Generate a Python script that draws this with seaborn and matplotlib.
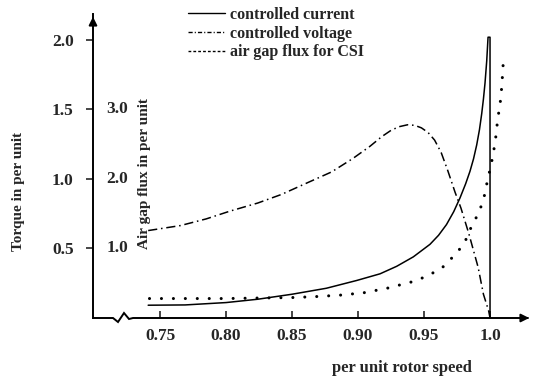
import numpy as np
import pandas as pd
import matplotlib
matplotlib.use("Agg")
import matplotlib.pyplot as plt
from matplotlib.lines import Line2D
import seaborn as sns

# ---- data ----
speed_cc = [0.741, 0.769, 0.800, 0.824, 0.850, 0.876, 0.899, 0.9167, 0.9293, 0.9419,
            0.9545, 0.961, 0.967, 0.9725, 0.9773, 0.9815, 0.9848, 0.9875, 0.9899,
            0.992, 0.9937, 0.995, 0.9962, 0.9975, 0.9985, 1.000, 1.000]
torque_cc = [0.092, 0.094, 0.111, 0.135, 0.171, 0.214, 0.270, 0.318, 0.372, 0.440,
             0.530, 0.595, 0.672, 0.765, 0.865, 0.965, 1.055, 1.145, 1.245,
             1.355, 1.470, 1.575, 1.690, 1.850, 2.020, 2.020, 0.000]

speed_cv = [0.741, 0.7655, 0.785, 0.803, 0.824, 0.842, 0.860, 0.880, 0.896, 0.909,
            0.918, 0.925, 0.931, 0.9375, 0.943, 0.948, 0.953, 0.958, 0.963, 0.968,
            0.9735, 0.978, 0.984, 0.991, 0.995, 0.999, 1.000]
torque_cv = [0.629, 0.665, 0.713, 0.769, 0.827, 0.889, 0.966, 1.051, 1.147, 1.235,
             1.305, 1.350, 1.376, 1.390, 1.386, 1.368, 1.335, 1.280, 1.190, 1.060,
             0.905, 0.790, 0.605, 0.364, 0.171, 0.050, 0.000]

speed_fx = [0.742, 0.770, 0.800, 0.834, 0.850, 0.868, 0.886, 0.904, 0.922, 0.942,
            0.953, 0.964, 0.974, 0.9805, 0.9857, 0.991, 0.995, 0.997, 1.001, 1.004,
            1.005, 1.0065, 1.008, 1.009, 1.010]
flux_fx = [0.140, 0.140, 0.140, 0.145, 0.147, 0.154, 0.164, 0.181, 0.214, 0.263,
           0.304, 0.364, 0.460, 0.537, 0.653, 0.749, 0.846, 0.942, 1.111, 1.268,
           1.364, 1.472, 1.569, 1.677, 1.834]

x_ticks = [0.75, 0.80, 0.85, 0.90, 0.95, 1.00]
x_tick_labels = ["0.75", "0.80", "0.85", "0.90", "0.95", "1.0"]
torque_ticks = [0.5, 1.0, 1.5, 2.0]
torque_tick_labels = ["0.5", "1.0", "1.5", "2.0"]
flux_tick_pos = [0.5, 1.0, 1.5]
flux_tick_labels = ["1.0", "2.0", "3.0"]
legend_labels = ["controlled current", "controlled voltage", "air gap flux for CSI"]

# ---- style ----
sns.set_style("white")
plt.rcParams["font.family"] = ["Liberation Serif", "DejaVu Serif"]
plt.rcParams["font.weight"] = "bold"
FS = 11
FT = 12.5

W, H = 534, 376
fig = plt.figure(figsize=(W / 100, H / 100), dpi=100)
ax = fig.add_axes([93 / W, 1 - 318 / H, (532 - 93) / W, (318 - 14) / H])

cc = pd.DataFrame({"speed": speed_cc, "torque": torque_cc})
cv = pd.DataFrame({"speed": speed_cv, "torque": torque_cv})
fx = pd.DataFrame({"speed": speed_fx, "value": flux_fx})

sns.lineplot(data=cc, x="speed", y="torque", ax=ax, color="black", lw=1.1,
             sort=False, estimator=None)
sns.lineplot(data=cv, x="speed", y="torque", ax=ax, color="black", lw=1.1,
             sort=False, estimator=None, linestyle=(0, (6, 2.5, 1, 2.5)))
sns.lineplot(data=fx, x="speed", y="value", ax=ax, color="black", lw=2.2,
             sort=False, estimator=None, linestyle=(0, (0.01, 3.9)))
ax.lines[-1].set_dash_capstyle("round")

ax.set_xlim(0.6992, 1.0318)
ax.set_ylim(0, 2.187)

for s in ["top", "right", "bottom"]:
    ax.spines[s].set_visible(False)
ax.spines["left"].set_linewidth(1.4)
ax.spines["left"].set_color("black")

ax.set_xticks(x_ticks)
ax.set_xticklabels(x_tick_labels, fontsize=FT, fontweight="bold")
ax.set_yticks(torque_ticks)
ax.set_yticklabels(torque_tick_labels, fontsize=FT, fontweight="bold")
ax.tick_params(axis="x", direction="in", length=5, width=1.2, pad=7, bottom=True)
ax.tick_params(axis="y", direction="out", length=5, width=1.2, pad=9, left=True)
ax.set_xlabel("")
ax.set_ylabel("")

# bottom axis with break mark, drawn in axes fraction
def fx_px(px):
    return (px - 93) / (532 - 93)
def fy_px(dpy):
    return dpy / (318 - 14)
bx = [fx_px(p) for p in [93, 113, 118, 124, 129, 133, 528]]
by = [fy_px(d) for d in [0, 0, -4, 5, -1, 0, 0]]
ax.plot(bx, by, transform=ax.transAxes, color="black", lw=1.4, clip_on=False,
        solid_joinstyle="miter")
ax.annotate("", xy=(1.0, 0), xytext=(0.97, 0), xycoords="axes fraction",
            arrowprops=dict(arrowstyle="-|>", color="black", lw=1.4,
                            mutation_scale=12), annotation_clip=False)
ax.annotate("", xy=(0, 1.0), xytext=(0, 0.96), xycoords="axes fraction",
            arrowprops=dict(arrowstyle="-|>", color="black", lw=1.4,
                            mutation_scale=12), annotation_clip=False)

# second (flux) scale labels inside the plot
for pos, lab in zip(flux_tick_pos, flux_tick_labels):
    ax.text(0.7258, pos, lab, ha="right", va="center", fontsize=FT,
            fontweight="bold")
ax.text(0.7385, 1.043, "Air gap flux in per unit", rotation=90, ha="center",
        va="center", fontsize=FS, fontweight="bold")

fig.text(18.5 / W, 1 - 191.5 / H, "Torque in per unit", rotation=90,
         ha="center", va="center", fontsize=FS, fontweight="bold")
fig.text(402 / W, 1 - 368 / H, "per unit rotor speed", ha="center",
         va="center", fontsize=12, fontweight="bold")

handles = [Line2D([], [], color="black", lw=1.0),
           Line2D([], [], color="black", lw=1.0, linestyle=(0, (3, 1.5, 0.8, 1.5))),
           Line2D([], [], color="black", lw=1.0, linestyle=(0, (2, 1.5)))]
fig.legend(handles, legend_labels, loc="upper left",
           bbox_to_anchor=(188 / W, 1 - 7 / H), frameon=False,
           handlelength=2.3, handletextpad=0.3, labelspacing=0.17,
           borderpad=0, borderaxespad=0, prop={"weight": "bold", "size": 11.5})

fig.savefig("out.png", dpi=100)
